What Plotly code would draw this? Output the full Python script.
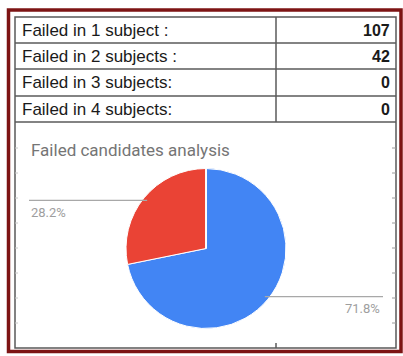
import math
import plotly.graph_objects as go

# ---- data ----
row_labels = ["Failed in 1 subject :", "Failed in 2 subjects :", "Failed in 3 subjects:", "Failed in 4 subjects:"]
counts = [107, 42, 0, 0]
chart_title = "Failed candidates analysis"
slice_colors = ["#4285f4", "#ea4335", "#fbbc04", "#34a853"]

W, H = 403, 356


def px(x):
    return x / W


def py(y):
    return 1 - y / H


# pie geometry (pixels)
cx, cy, R = 206, 248.5, 80

fig = go.Figure()
fig.add_trace(go.Pie(
    labels=[l.rstrip(" :") for l in row_labels],
    values=counts,
    sort=False,
    direction="clockwise",
    rotation=0,
    textinfo="none",
    hoverinfo="label+value+percent",
    marker=dict(colors=slice_colors, line=dict(color="white", width=1)),
    domain=dict(x=[px(cx - R), px(cx + R)], y=[py(cy + R), py(cy - R)]),
    showlegend=False,
))

shapes = []
annotations = []

# outer dark-red frame and inner grey frame
shapes.append(dict(type="rect", xref="paper", yref="paper",
                   x0=px(8.5), x1=px(401), y0=py(351.5), y1=py(10),
                   line=dict(color="#7d1414", width=3.5)))
shapes.append(dict(type="rect", xref="paper", yref="paper",
                   x0=px(15), x1=px(396), y0=py(348), y1=py(17),
                   line=dict(color="#5a5a5a", width=1.5)))

# table grid
row_y = [17, 43, 69, 96, 122]
col_x = 276
for yv in row_y[1:]:
    shapes.append(dict(type="line", xref="paper", yref="paper",
                       x0=px(15), x1=px(396), y0=py(yv), y1=py(yv),
                       line=dict(color="#5a5a5a", width=1.5)))
shapes.append(dict(type="line", xref="paper", yref="paper",
                   x0=px(col_x), x1=px(col_x), y0=py(17), y1=py(122),
                   line=dict(color="#5a5a5a", width=1.5)))
shapes.append(dict(type="line", xref="paper", yref="paper",
                   x0=px(col_x), x1=px(col_x), y0=py(343), y1=py(348),
                   line=dict(color="#5a5a5a", width=1.5)))
# faint spreadsheet grid ticks at the edges of the chart area
for yv in [148, 173, 198, 223, 248, 273, 298, 323]:
    shapes.append(dict(type="line", xref="paper", yref="paper",
                       x0=px(392), x1=px(396), y0=py(yv), y1=py(yv),
                       line=dict(color="#9a9a9a", width=1)))
    shapes.append(dict(type="line", xref="paper", yref="paper",
                       x0=px(15), x1=px(18), y0=py(yv), y1=py(yv),
                       line=dict(color="#c8c8c8", width=1)))

# table text
for i, (lab, val) in enumerate(zip(row_labels, counts)):
    ymid = (row_y[i] + row_y[i + 1]) / 2 + 0.5
    annotations.append(dict(xref="paper", yref="paper", x=px(20), y=py(ymid),
                            text=lab, showarrow=False, xanchor="left", yanchor="middle",
                            font=dict(family="Liberation Sans, Arial", size=17, color="#1a1a1a")))
    annotations.append(dict(xref="paper", yref="paper", x=px(392), y=py(ymid),
                            text="<b>%d</b>" % val, showarrow=False, xanchor="right", yanchor="middle",
                            font=dict(family="Liberation Sans, Arial", size=16, color="#1a1a1a")))

# chart title
annotations.append(dict(xref="paper", yref="paper", x=px(29), y=py(150),
                        text=chart_title, showarrow=False, xanchor="left", yanchor="middle",
                        font=dict(family="Roboto, Arial", size=17, color="#757575")))

# leader lines + percentage labels, computed from data
total = sum(counts)
start = 0.0
nonzero = [(i, v) for i, v in enumerate(counts) if v > 0]
for i, v in enumerate(counts):
    frac = v / total
    if v == 0:
        continue
    mid = (start + frac / 2) * 2 * math.pi  # clockwise from top
    start += frac
    ax = cx + 0.95 * R * math.sin(mid)
    ay = cy - 0.95 * R * math.cos(mid)
    pct = "%.1f%%" % (frac * 100)
    if math.sin(mid) < 0:
        x_end = 29
        shapes.append(dict(type="line", xref="paper", yref="paper",
                           x0=px(x_end), x1=px(ax), y0=py(ay), y1=py(ay),
                           line=dict(color="#a8a8a8", width=1.2)))
        annotations.append(dict(xref="paper", yref="paper", x=px(x_end), y=py(ay + 12),
                                text=pct, showarrow=False, xanchor="left", yanchor="middle",
                                font=dict(family="Roboto, Arial", size=13, color="#9e9e9e")))
    else:
        x_end = 383
        shapes.append(dict(type="line", xref="paper", yref="paper",
                           x0=px(ax), x1=px(x_end), y0=py(ay), y1=py(ay),
                           line=dict(color="#a8a8a8", width=1.2)))
        annotations.append(dict(xref="paper", yref="paper", x=px(x_end - 1), y=py(ay + 12),
                                text=pct, showarrow=False, xanchor="right", yanchor="middle",
                                font=dict(family="Roboto, Arial", size=13, color="#9e9e9e")))

fig.update_layout(
    width=W, height=H,
    margin=dict(l=0, r=0, t=0, b=0),
    paper_bgcolor="white",
    plot_bgcolor="white",
    shapes=shapes,
    annotations=annotations,
)

fig.write_html("out.html")
